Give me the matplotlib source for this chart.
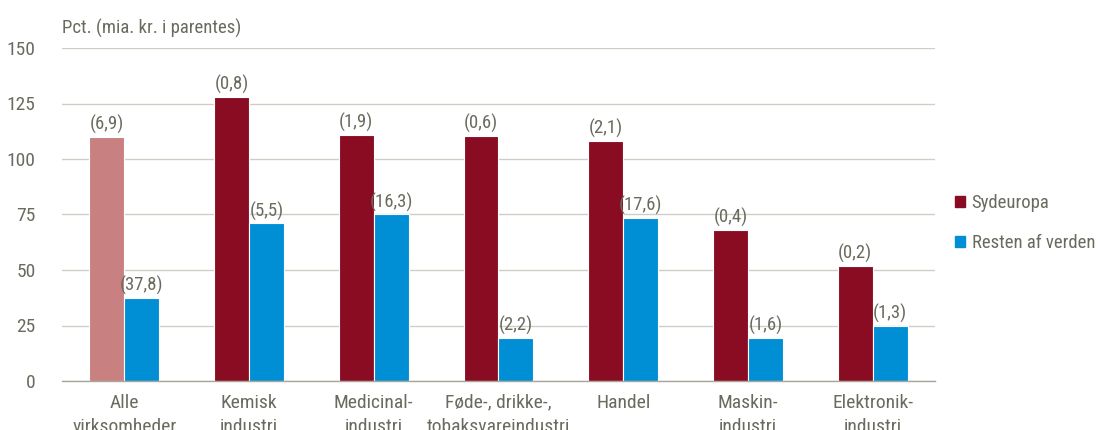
import matplotlib
matplotlib.use("Agg")
import matplotlib.pyplot as plt
import numpy as np
from matplotlib.patches import Patch

# ---------------------------------------------------------------------------
# Data
# ---------------------------------------------------------------------------
categories = [
    "Alle\nvirksomheder",
    "Kemisk\nindustri",
    "Medicinal-\nindustri",
    "Føde-, drikke-,\ntobaksvareindustri",
    "Handel",
    "Maskin-\nindustri",
    "Elektronik-\nindustri",
]
sydeuropa = [110, 128, 111, 110.5, 108, 68, 52]
resten = [37.5, 71, 75, 19.5, 73.5, 19.5, 25]
sydeuropa_labels = ["(6,9)", "(0,8)", "(1,9)", "(0,6)", "(2,1)", "(0,4)", "(0,2)"]
resten_labels = ["(37,8)", "(5,5)", "(16,3)", "(2,2)", "(17,6)", "(1,6)", "(1,3)"]
yticks = [0, 25, 50, 75, 100, 125, 150]

# ---------------------------------------------------------------------------
# Style
# ---------------------------------------------------------------------------
RED = "#8A0C22"
PINK = "#C98080"
BLUE = "#008FD5"
TEXT = "#6B6A5E"
GRID = "#CFCDC4"
AXIS = "#A9A79C"
FS = 13.5

plt.rcParams["font.family"] = ["Liberation Sans Narrow", "Roboto Condensed",
                               "Archivo Narrow", "DejaVu Sans"]

W, H = 1102, 430
fig = plt.figure(figsize=(W / 100, H / 100), dpi=100)
ax = fig.add_axes([62 / W, (H - 381) / H, 873 / W, 333 / H])

x = np.arange(len(categories))
bw = 0.28
colors_s = [PINK] + [RED] * (len(categories) - 1)

bars_s = ax.bar(x - bw / 2, sydeuropa, width=bw, color=colors_s,
                edgecolor="white", linewidth=0.8, zorder=3)
bars_r = ax.bar(x + bw / 2, resten, width=bw, color=BLUE,
                edgecolor="white", linewidth=0.8, zorder=3)

for bars, labels in ((bars_s, sydeuropa_labels), (bars_r, resten_labels)):
    for bar, lab in zip(bars, labels):
        ax.annotate(lab, (bar.get_x() + bar.get_width() / 2, bar.get_height()),
                    xytext=(0, 2), textcoords="offset points",
                    ha="center", va="bottom", fontsize=FS, color=TEXT)

ax.set_xlim(-0.5, len(categories) - 0.5)
ax.set_ylim(0, 150)
ax.set_yticks(yticks)
ax.set_yticklabels([str(t) for t in yticks])
ax.set_xticks(x)
ax.set_xticklabels(categories, linespacing=1.45)
ax.tick_params(axis="y", length=0, pad=19, labelsize=FS + 0.5, labelcolor=TEXT)
ax.tick_params(axis="x", length=0, pad=9, labelsize=FS + 0.5, labelcolor=TEXT)

ax.grid(axis="y", color=GRID, linewidth=1.0, zorder=0)
for side in ("top", "right", "left"):
    ax.spines[side].set_visible(False)
ax.spines["bottom"].set_color(AXIS)
ax.spines["bottom"].set_linewidth(1.0)
ax.spines["bottom"].set_zorder(4)

fig.text(62 / W, 1 - 28 / H, "Pct. (mia. kr. i parentes)", ha="left", va="center",
         fontsize=FS, color=TEXT)

handles = [Patch(color=RED, label="Sydeuropa"), Patch(color=BLUE, label="Resten af verden")]
fig.legend(handles=handles, loc="upper left", bbox_to_anchor=(938 / W, 1 - 177 / H),
           frameon=False, handlelength=0.55, handleheight=0.55, handletextpad=0.35,
           labelspacing=1.2, fontsize=FS, labelcolor=TEXT)

fig.savefig("out.png", dpi=100)
